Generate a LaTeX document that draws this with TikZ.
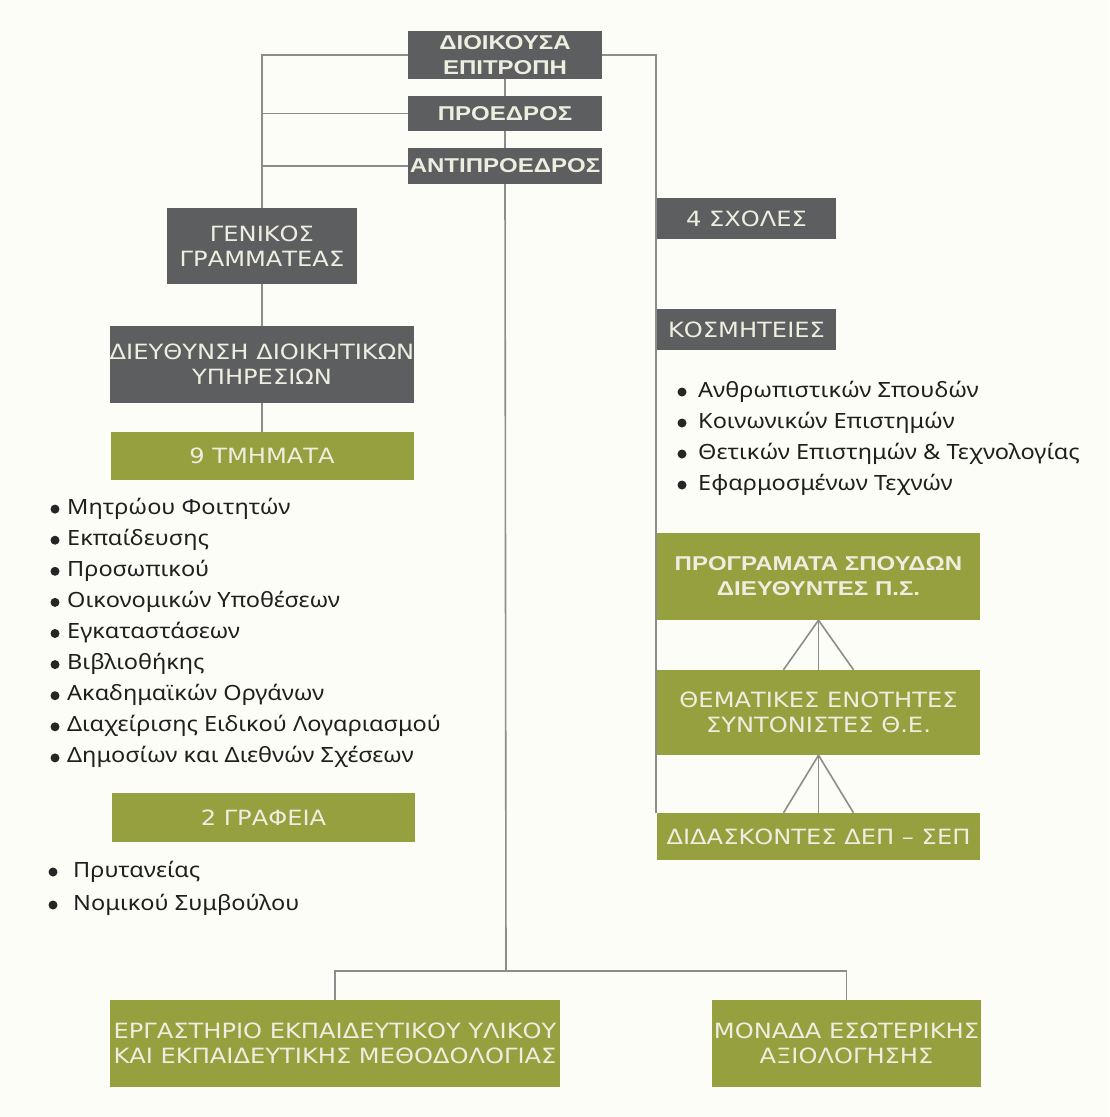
\documentclass[tikz,border=0pt]{standalone}
\usepackage{fontspec}
\setmainfont{Noto Sans}[FakeStretch=1.12]
\newfontfamily\boxfont{DejaVu Sans}[FakeStretch=1.15]
\newfontfamily\headfont{Liberation Sans}[FakeStretch=1.2]

\definecolor{paper}{RGB}{253,253,248}
\definecolor{unitgray}{RGB}{93,94,96}
\definecolor{unitolive}{RGB}{150,160,62}
\definecolor{linegray}{RGB}{140,140,140}
\definecolor{unittext}{RGB}{238,238,224}

\begin{document}
\begin{tikzpicture}[x=1pt,y=-1pt,
	conn/.style={draw=linegray,line width=1.6pt},
	unit/.style={inner sep=0pt,align=center,text=unittext,font=\boxfont\fontsize{21}{25}\selectfont},
	darkunit/.style={unit,fill=unitgray},
	greenunit/.style={unit,fill=unitolive},
	heavy/.style={font=\headfont\bfseries\fontsize{20}{25}\selectfont},
	item/.style={anchor=west,inner sep=0pt,text height=15pt,text depth=5pt,text=black!88,font=\fontsize{21}{24}\selectfont}]
	\fill[paper] (0,0) rectangle (1109,1117);
	\useasboundingbox (0,0) rectangle (1109,1117);
	% centre column
	\node[darkunit,heavy,minimum width=194pt,minimum height=48pt] (dioik) at (505,55) {ΔΙΟΙΚΟΥΣΑ\\ΕΠΙΤΡΟΠΗ};
	\node[darkunit,heavy,minimum width=194pt,minimum height=35pt] (proedr) at (505,113.5) {ΠΡΟΕΔΡΟΣ};
	\node[darkunit,heavy,minimum width=194pt,minimum height=36pt] (antipr) at (505,166) {ΑΝΤΙΠΡΟΕΔΡΟΣ};
	% left column
	\node[darkunit,minimum width=190pt,minimum height=76pt] (genik) at (262,246) {ΓΕΝΙΚΟΣ\\ΓΡΑΜΜΑΤΕΑΣ};
	\node[darkunit,minimum width=303pt,minimum height=77pt] (dieuth) at (262,364.5) {ΔΙΕΥΘΥΝΣΗ ΔΙΟΙΚΗΤΙΚΩΝ\\ΥΠΗΡΕΣΙΩΝ};
	\node[greenunit,minimum width=303pt,minimum height=48pt] (tmimata) at (262,456) {9 ΤΜΗΜΑΤΑ};
	\node[greenunit,minimum width=303pt,minimum height=49pt] (grafeia) at (263.5,817.5) {2 ΓΡΑΦΕΙΑ};
	% right column
	\node[darkunit,minimum width=179pt,minimum height=41pt] (sxoles) at (746.5,218.5) {4 ΣΧΟΛΕΣ};
	\node[darkunit,minimum width=179pt,minimum height=41pt] (kosmit) at (746.5,329.5) {ΚΟΣΜΗΤΕΙΕΣ};
	\node[greenunit,heavy,minimum width=323pt,minimum height=87pt] (progr) at (818.5,576.5) {ΠΡΟΓΡΑΜΑΤΑ ΣΠΟΥΔΩΝ\\ΔΙΕΥΘΥΝΤΕΣ Π.Σ.};
	\node[greenunit,minimum width=323pt,minimum height=85pt] (themat) at (818.5,712.5) {ΘΕΜΑΤΙΚΕΣ ΕΝΟΤΗΤΕΣ\\ΣΥΝΤΟΝΙΣΤΕΣ Θ.Ε.};
	\node[greenunit,minimum width=323pt,minimum height=47pt] (didask) at (818.5,836.5) {ΔΙΔΑΣΚΟΝΤΕΣ ΔΕΠ – ΣΕΠ};
	% bottom row
	\node[greenunit,minimum width=450pt,minimum height=87pt] (ergast) at (335,1043.5) {ΕΡΓΑΣΤΗΡΙΟ ΕΚΠΑΙΔΕΥΤΙΚΟΥ ΥΛΙΚΟΥ\\ΚΑΙ ΕΚΠΑΙΔΕΥΤΙΚΗΣ ΜΕΘΟΔΟΛΟΓΙΑΣ};
	\node[greenunit,minimum width=269pt,minimum height=87pt] (monada) at (846.5,1043.5) {ΜΟΝΑΔΑ ΕΣΩΤΕΡΙΚΗΣ\\ΑΞΙΟΛΟΓΗΣΗΣ};
	\coordinate (bus) at (506,971);
	% connectors
	\draw[conn] (dioik.west) -| (genik.north);
	\draw[conn] (proedr.west) -- (proedr.west -| genik.north);
	\draw[conn] (antipr.west) -- (antipr.west -| genik.north);
	\draw[conn] (genik.south) -- (dieuth.north) (dieuth.south) -- (tmimata.north);
	\draw[conn] (dioik.south) -- (proedr.north) (proedr.south) -- (antipr.north);
	\draw[conn] (antipr.south) -- (bus);
	\draw[conn] (ergast.north) |- (bus) -| (monada.north);
	\draw[conn] (dioik.east) -| ([xshift=-1pt]didask.north west);
	\foreach \dx in {-35,0,35} {
		\draw[conn] (progr.south) -- ([xshift=\dx pt]themat.north);
		\draw[conn] (themat.south) -- ([xshift=\dx pt]didask.north);
	}
	% lists
	\foreach \txt [count=\i] in {Μητρώου Φοιτητών,Εκπαίδευσης,Προσωπικού,Οικονομικών Υποθέσεων,Εγκαταστάσεων,Βιβλιοθήκης,Ακαδημαϊκών Οργάνων,Διαχείρισης Ειδικού Λογαριασμού,Δημοσίων και Διεθνών Σχέσεων} {
		\node[item] (tm\i) at (67,{478+31.1*\i}) {\txt};
		\fill[black!85] ([xshift=-12pt]tm\i.west) circle (4.5pt);
	}
	\foreach \txt [count=\i] in {Πρυτανείας,Νομικού Συμβούλου} {
		\node[item] (gr\i) at (73,{839+33*\i}) {\txt};
		\fill[black!85] ([xshift=-20pt]gr\i.west) circle (4.5pt);
	}
	\foreach \txt [count=\i] in {Ανθρωπιστικών Σπουδών,Κοινωνικών Επιστημών,Θετικών Επιστημών \& Τεχνολογίας,Εφαρμοσμένων Τεχνών} {
		\node[item] (sx\i) at (698,{361+31*\i}) {\txt};
		\fill[black!85] ([xshift=-16pt]sx\i.west) circle (4.5pt);
	}
\end{tikzpicture}
\end{document}
